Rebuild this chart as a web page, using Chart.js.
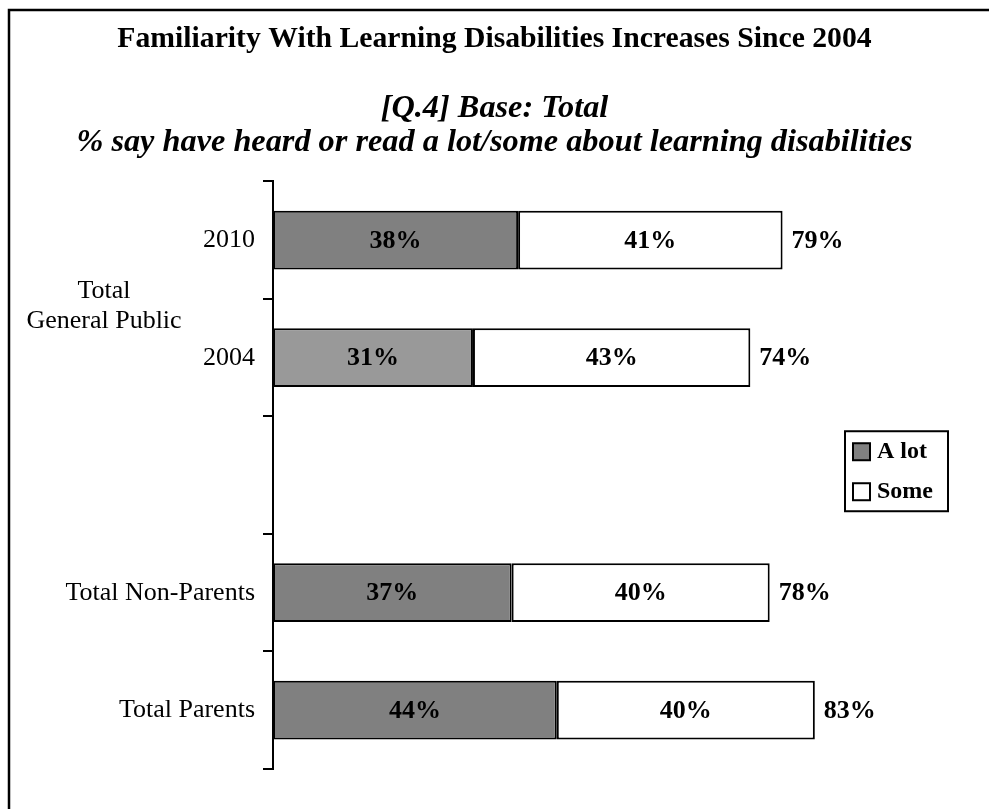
<!DOCTYPE html>
<html>
<head>
<meta charset="utf-8">
<title>Familiarity With Learning Disabilities</title>
<script src="https://cdn.jsdelivr.net/npm/chart.js@4"></script>
<style>
  html, body { margin: 0; padding: 0; background: #fff; }
  #wrap { width: 989px; height: 809px; position: relative; }
</style>
</head>
<body>
<div id="wrap"><canvas id="ldChart" width="989" height="809"></canvas></div>
<script>
const categories = ['2010', '2004', '', 'Total Non-Parents', 'Total Parents'];
const groupLabel = ['Total', 'General Public'];
const aLot = [38, 31, null, 37, 44];
const some = [41, 43, null, 40, 40];
const totals = [79, 74, null, 78, 83];
const aLotColors = ['#808080', '#999999', '#808080', '#808080', '#808080'];

const serif = '"Liberation Serif", "Times New Roman", serif';

// left + top frame lines
const framePlugin = {
    id: 'frame',
    beforeDraw(chart) {
        const ctx = chart.ctx;
        ctx.save();
        ctx.strokeStyle = '#000';
        ctx.lineWidth = 2.5;
        ctx.beginPath();
        ctx.moveTo(9, chart.height);
        ctx.lineTo(9, 10);
        ctx.lineTo(chart.width, 10);
        ctx.stroke();
        ctx.restore();
    }
};

// percent labels inside each segment and totals past the bar end
const valueLabels = {
    id: 'valueLabels',
    afterDatasetsDraw(chart) {
        const ctx = chart.ctx;
        ctx.save();
        ctx.fillStyle = '#000';
        ctx.font = 'bold 26px ' + serif;
        ctx.textBaseline = 'middle';
        ctx.textAlign = 'center';
        chart.data.datasets.forEach((ds, i) => {
            const meta = chart.getDatasetMeta(i);
            meta.data.forEach((bar, j) => {
                if (ds.data[j] == null) return;
                ctx.fillText(ds.data[j] + '%', (bar.x + bar.base) / 2, bar.y + 1);
            });
        });
        const last = chart.getDatasetMeta(chart.data.datasets.length - 1);
        ctx.textAlign = 'left';
        last.data.forEach((bar, j) => {
            if (totals[j] == null) return;
            ctx.fillText(totals[j] + '%', bar.x + 9, bar.y + 1);
        });
        ctx.restore();
    }
};

// two-line label spanning the 2010 / 2004 rows
const groupLabelPlugin = {
    id: 'groupLabel',
    afterDraw(chart) {
        const y = chart.scales.y;
        const mid = (y.getPixelForValue(0) + y.getPixelForValue(1)) / 2;
        const ctx = chart.ctx;
        ctx.save();
        ctx.fillStyle = '#000';
        ctx.font = '26px ' + serif;
        ctx.textAlign = 'center';
        ctx.textBaseline = 'middle';
        ctx.fillText(groupLabel[0], 104, mid - 8);
        ctx.fillText(groupLabel[1], 104, mid + 22);
        ctx.restore();
    }
};

// boxed legend sitting inside the plot on the right
const boxLegend = {
    id: 'boxLegend',
    afterDraw(chart) {
        const area = chart.chartArea;
        const ctx = chart.ctx;
        const left = area.right - 144;
        const top = (area.top + area.bottom) / 2 - 44;
        const w = 103, h = 80;
        ctx.save();
        ctx.lineWidth = 2;
        ctx.strokeStyle = '#000';
        ctx.fillStyle = '#fff';
        ctx.fillRect(left, top, w, h);
        ctx.strokeRect(left, top, w, h);
        ctx.font = 'bold 24px ' + serif;
        ctx.textBaseline = 'middle';
        ctx.textAlign = 'left';
        chart.data.datasets.forEach((ds, i) => {
            const cy = top + 20 + i * 40;
            const fill = Array.isArray(ds.backgroundColor) ? ds.backgroundColor[0] : ds.backgroundColor;
            ctx.fillStyle = fill;
            ctx.fillRect(left + 8, cy - 8, 17, 17);
            ctx.strokeRect(left + 8, cy - 8, 17, 17);
            ctx.fillStyle = '#000';
            ctx.fillText(ds.label, left + 32, cy + 1);
        });
        ctx.restore();
    }
};

const ctx = document.getElementById('ldChart').getContext('2d');
new Chart(ctx, {
    type: 'bar',
    data: {
        labels: categories,
        datasets: [
            {
                label: 'A lot',
                data: aLot,
                backgroundColor: aLotColors,
                borderColor: '#000',
                borderWidth: 2,
                borderSkipped: false
            },
            {
                label: 'Some',
                data: some,
                backgroundColor: '#ffffff',
                borderColor: '#000',
                borderWidth: 2,
                borderSkipped: false
            }
        ]
    },
    options: {
        indexAxis: 'y',
        responsive: false,
        animation: false,
        categoryPercentage: 0.5,
        barPercentage: 1.0,
        layout: { padding: { left: 0, right: 0, top: 0, bottom: 40 } },
        scales: {
            x: {
                stacked: true,
                display: false,
                min: 0,
                max: 111
            },
            y: {
                stacked: true,
                afterFit: s => { s.width = 273; },
                grid: {
                    display: true,
                    offset: true,
                    drawOnChartArea: false,
                    drawTicks: true,
                    tickLength: 10,
                    color: '#000',
                    lineWidth: 2
                },
                border: { display: true, color: '#000', width: 2 },
                ticks: {
                    color: '#000',
                    padding: 8,
                    font: { family: serif, size: 26 }
                }
            }
        },
        plugins: {
            legend: { display: false },
            tooltip: { enabled: false },
            title: {
                display: true,
                text: 'Familiarity With Learning Disabilities Increases Since 2004',
                color: '#000',
                font: { family: serif, size: 29.7, weight: 'bold', lineHeight: 1.2 },
                padding: { top: 22, bottom: 34 }
            },
            subtitle: {
                display: true,
                text: ['[Q.4] Base: Total', '% say have heard or read a lot/some about learning disabilities'],
                color: '#000',
                font: { family: serif, size: 32.3, style: 'italic', weight: 'bold', lineHeight: 1.05 },
                padding: { top: 0, bottom: 22 }
            }
        }
    },
    plugins: [framePlugin, valueLabels, groupLabelPlugin, boxLegend]
});
</script>
</body>
</html>
